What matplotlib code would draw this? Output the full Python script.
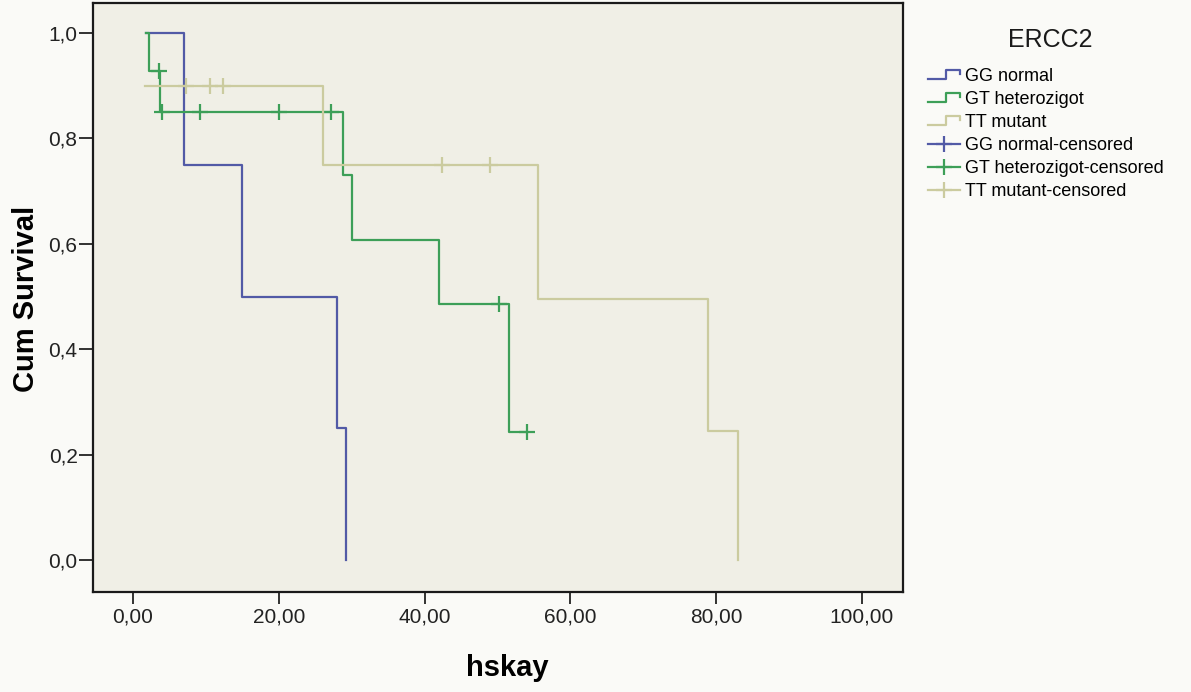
import matplotlib.pyplot as plt
from matplotlib.lines import Line2D
from matplotlib.legend_handler import HandlerBase
from matplotlib.ticker import FuncFormatter

# Kaplan-Meier steps
gg_t = [1.8, 7.0, 15.0, 28.0, 29.2]
gg_s = [1.0, 0.75, 0.50, 0.25, 0.0]
gg_cens_t = []
gg_cens_s = []

gt_t = [1.8, 2.2, 3.7, 28.8, 30.0, 42.0, 51.6, 54.0]
gt_s = [1.0, 0.929, 0.851, 0.730, 0.608, 0.486, 0.243, 0.243]
gt_cens_t = [3.5, 4.0, 9.2, 20.0, 27.1, 50.2, 54.0]
gt_cens_s = [0.929, 0.851, 0.851, 0.851, 0.851, 0.486, 0.243]

tt_t = [1.7, 26.0, 55.6, 78.9, 83.0]
tt_s = [0.90, 0.75, 0.495, 0.245, 0.0]
tt_cens_t = [7.3, 10.6, 12.3, 42.4, 49.0]
tt_cens_s = [0.90, 0.90, 0.90, 0.75, 0.75]

groups = ['GG normal', 'GT heterozigot', 'TT mutant']
colors = ['#525aa6', '#3d9f58', '#cbcb9f']

x_ticks = [0, 20, 40, 60, 80, 100]
y_ticks = [0.0, 0.2, 0.4, 0.6, 0.8, 1.0]


class StepHandler(HandlerBase):
    # little step-shaped sample like the SPSS legend
    def create_artists(self, legend, orig_handle, xdescent, ydescent,
                       width, height, fontsize, trans):
        x0, y0 = -xdescent, -ydescent
        xm = x0 + 0.55 * width
        xs = [x0, xm, xm, x0 + width, x0 + width]
        ys = [y0 + 0.15 * height, y0 + 0.15 * height, y0 + 0.85 * height,
              y0 + 0.85 * height, y0 + 0.55 * height]
        ln = Line2D(xs, ys, color=orig_handle.get_color(),
                    lw=orig_handle.get_linewidth(), transform=trans)
        return [ln]


plt.rcParams['font.family'] = ['Liberation Sans', 'DejaVu Sans']

fig = plt.figure(figsize=(11.91, 6.92), dpi=100, facecolor='#fafaf7')
ax = fig.add_axes([0.078, 0.1445, 0.68, 0.851])
ax.set_facecolor('#f0efe6')

curves = [(gg_t, gg_s, gg_cens_t, gg_cens_s),
          (gt_t, gt_s, gt_cens_t, gt_cens_s),
          (tt_t, tt_s, tt_cens_t, tt_cens_s)]

step_handles = []
cens_handles = []
for (t, s, ct, cs), name, c in zip(curves, groups, colors):
    ln, = ax.step(t, s, where='post', color=c, lw=1.6, label=name)
    step_handles.append(ln)
    ax.plot(ct, cs, linestyle='none', marker='+', markersize=11,
            markeredgewidth=1.6, color=c)
    cens_handles.append(Line2D([], [], color=c, lw=1.6, marker='+',
                               markersize=11, markeredgewidth=1.6))

ax.set_xlim(-5.5, 105.6)
ax.set_ylim(-0.061, 1.057)
ax.set_xticks(x_ticks)
ax.set_yticks(y_ticks)
ax.xaxis.set_major_formatter(FuncFormatter(lambda v, p: f'{v:.2f}'.replace('.', ',')))
ax.yaxis.set_major_formatter(FuncFormatter(lambda v, p: f'{v:.1f}'.replace('.', ',')))
ax.tick_params(axis='x', direction='out', length=8.5, width=1.3,
               labelsize=15, colors='#222222', pad=3)
ax.tick_params(axis='y', direction='out', length=10, width=1.3,
               labelsize=15, colors='#222222', pad=1)
for sp in ax.spines.values():
    sp.set_linewidth(1.6)
    sp.set_color('#1a1a1a')

ax.set_xlabel('hskay', fontsize=21, fontweight='bold')
ax.set_ylabel('Cum Survival', fontsize=21, fontweight='bold')
ax.xaxis.set_label_coords(0.512, -0.105)
ax.yaxis.set_label_coords(-0.0654, 0.497)

handles = step_handles + cens_handles
labels = groups + [g + '-censored' for g in groups]
hmap = {h: StepHandler() for h in step_handles}
fig.legend(handles, labels, loc='upper left',
           bbox_to_anchor=(0.7657, 0.925), frameon=False, fontsize=13,
           handlelength=1.78, handletextpad=0.28, labelspacing=0.33,
           numpoints=1, handler_map=hmap)
fig.text(0.8816, 0.942, 'ERCC2', fontsize=18, ha='center', va='center',
         color='#1a1a1a')

fig.savefig('out.png', dpi=100, facecolor=fig.get_facecolor())
